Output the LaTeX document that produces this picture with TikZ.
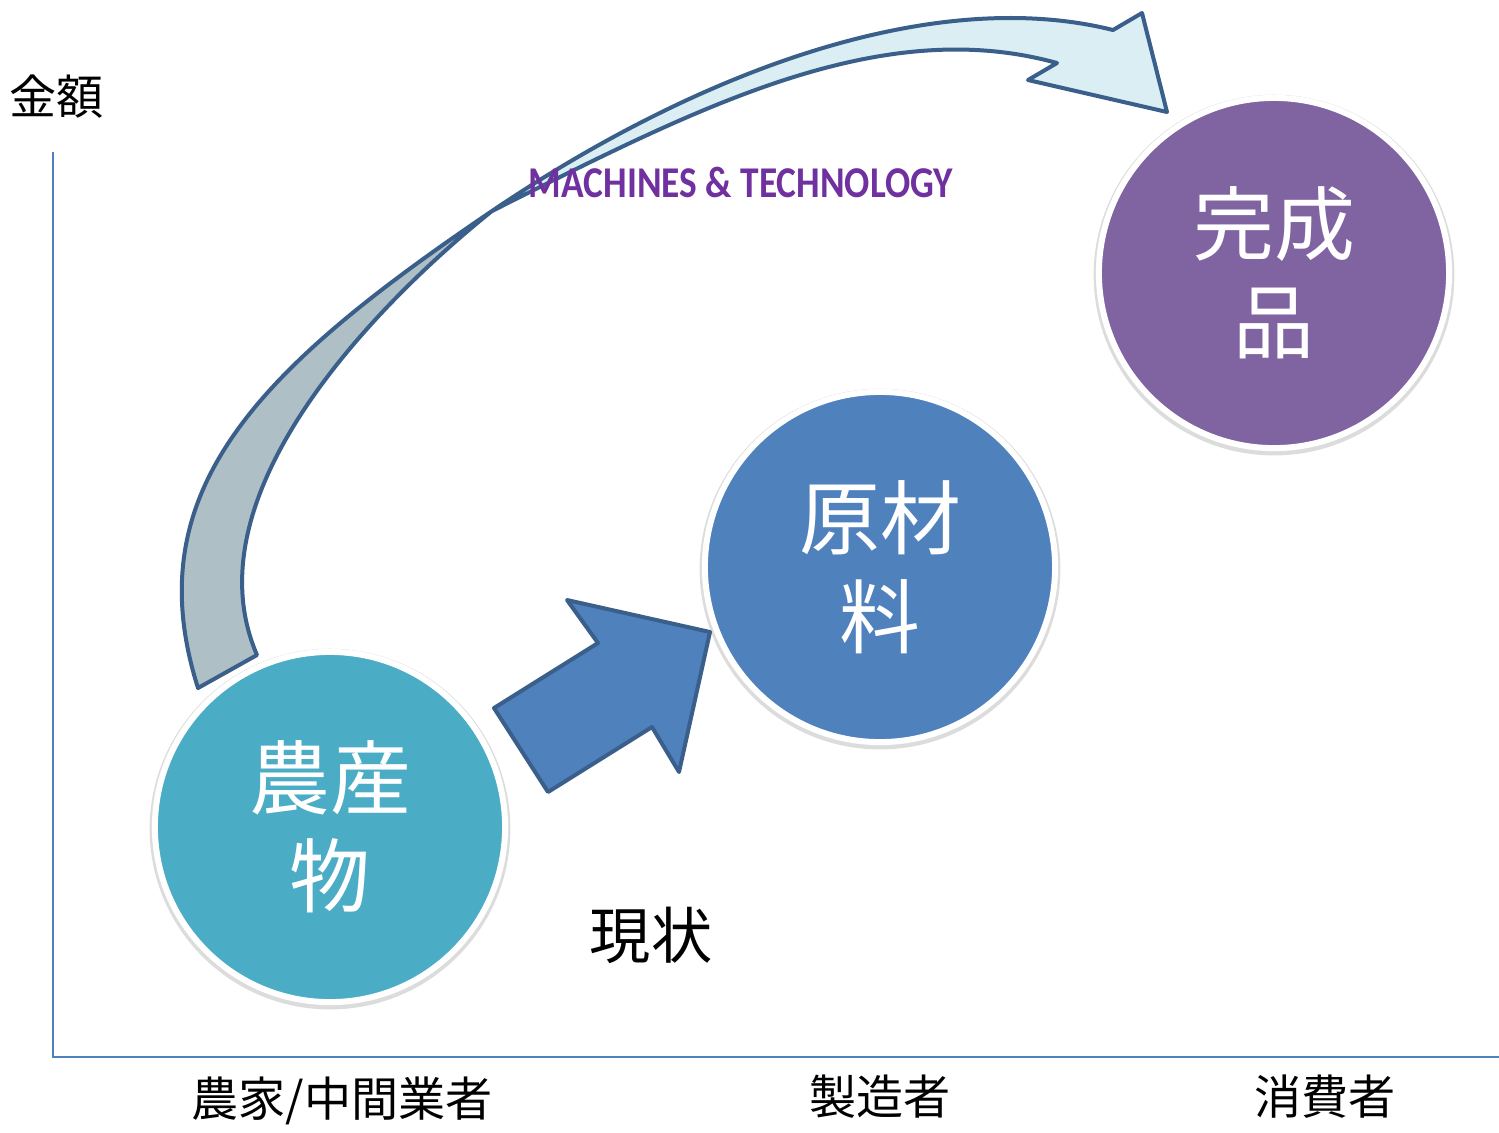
\documentclass[tikz,border=0pt]{standalone}
\usepackage{fontspec}
\newfontfamily\jpfont{Noto Sans CJK JP}
\newfontfamily\techfont{Carlito}
\usetikzlibrary{shadows}
\definecolor{farmcol}{HTML}{4BACC6}
\definecolor{rawcol}{HTML}{4F81BD}
\definecolor{goodscol}{HTML}{8064A2}
\definecolor{edgecol}{HTML}{3A5F8B}
\definecolor{ribbongray}{HTML}{AFBFC6}
\definecolor{ribbonblue}{HTML}{DAEEF3}
\definecolor{techcol}{HTML}{7030A0}
\newcommand{\ribbonpath}{(198,688) .. controls (135,490) and (260,368) .. (492,211)
  .. controls (699,71) and (933,-15) .. (1113,30) -- (1142,13) -- (1167,112) -- (1028,80) -- (1057,63)
  .. controls (877,13) and (692,111) .. (492,211)
  .. controls (392,291) and (185,489) .. (257,655) -- cycle}
\begin{document}
\begin{tikzpicture}[x=0.01cm, y=-0.01cm,
  bubble/.style={circle, minimum size=3.5cm, draw=white, line width=0.06cm, text=white, align=center,
    font=\jpfont\fontsize{23}{28}\selectfont,
    drop shadow={shadow scale=1.03, shadow xshift=0cm, shadow yshift=-0.02cm, opacity=.3, fill=black!45}},
  axislabel/.style={font=\jpfont\fontsize{13.4}{15}\selectfont, inner sep=0pt},
  edge/.style={draw=edgecol, line width=0.04cm, line join=round}]
\useasboundingbox (0,0) rectangle (1499,1132);
\draw[rawcol, line width=0.02cm] (53,152) -- (53,1057) -- (1499,1057);
\node[axislabel] (amount) at (57,97) {金額};
\node[axislabel] (farmer) at (342,1101) {農家/中間業者};
\node[axislabel] (maker) at (880,1097) {製造者};
\node[axislabel] (consumer) at (1325,1097) {消費者};
\begin{scope}
\clip \ribbonpath;
\fill[ribbongray] (150,0) rectangle (492,720);
\fill[ribbonblue] (492,0) rectangle (1200,720);
\end{scope}
\draw[edge] \ribbonpath;
\node[bubble, fill=farmcol] (farm) at (330,827) {農産\\物};
\node[bubble, fill=rawcol] (raw) at (880,567) {原材\\料};
\node[bubble, fill=goodscol] (goods) at (1274,273) {完成\\品};
\draw[edge, fill=rawcol] (548,792) -- (494,708) -- (598,643) -- (567,600) -- (710,632) -- (679,772) -- (652,727) -- cycle;
\node[font=\techfont\bfseries\fontsize{12.5}{13}\selectfont, text=techcol, inner sep=0pt] (tech) at (741,182) {\scalebox{.85}[1]{MACHINES \& TECHNOLOGY}};
\node[font=\jpfont\fontsize{17.4}{20}\selectfont, inner sep=0pt] (now) at (651,935) {現状};
\end{tikzpicture}
\end{document}
